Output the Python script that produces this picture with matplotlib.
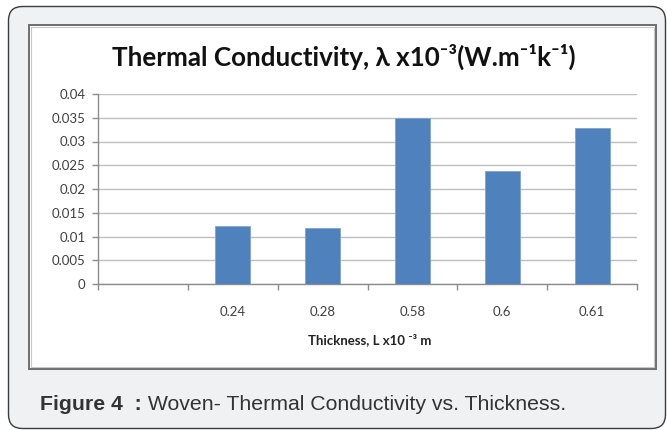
import numpy as np
import matplotlib
matplotlib.use("Agg")
import matplotlib.pyplot as plt
from matplotlib.patches import FancyBboxPatch, Rectangle
from matplotlib.ticker import FixedLocator, FuncFormatter

# ---- data ----
categories = ["", "0.24", "0.28", "0.58", "0.6", "0.61"]
conductivity = [np.nan, 0.0122, 0.0118, 0.035, 0.0238, 0.0328]
y_ticks = [0, 0.005, 0.01, 0.015, 0.02, 0.025, 0.03, 0.035, 0.04]

title_text = "Thermal Conductivity, λ x10⁻³(W.m⁻¹k⁻¹)"
xlabel_text = "Thickness, L x10 ⁻³ m"
caption_bold = "Figure 4  :"
caption_rest = " Woven- Thermal Conductivity vs. Thickness."

FAM = ["Lato", "DejaVu Sans"]

W, H = 667, 430
fig = plt.figure(figsize=(W / 100, H / 100), dpi=100)
fig.patch.set_facecolor("white")

# background axes in pixel coordinates
bg = fig.add_axes([0, 0, 1, 1])
bg.set_xlim(0, W)
bg.set_ylim(H, 0)
bg.axis("off")

outer = FancyBboxPatch((8.5, 6.5), 657, 422, boxstyle="round,pad=0,rounding_size=14",
                       facecolor="#f0f1f3", edgecolor="#3c3c3c", linewidth=1.0)
bg.add_patch(outer)
inner = Rectangle((28.5, 24.5), 627, 344.5, facecolor="white", edgecolor="#6e6e6e", linewidth=1.4)
bg.add_patch(inner)
inner2 = Rectangle((30.5, 26.5), 623, 340.5, facecolor="none", edgecolor="#c8c8c8", linewidth=0.8)
bg.add_patch(inner2)

bg.text(344, 57, title_text, ha="center", va="center", family=FAM,
        fontweight="bold", fontsize=18.7, color="#111111")

# caption
renderer = fig.canvas.get_renderer()
t1 = bg.text(40, 405, caption_bold, ha="left", va="center", family="Liberation Sans",
             fontweight="bold", fontsize=15.3, color="#333333")
bb = t1.get_window_extent(renderer=renderer)
bg.text(bb.x1, H - 405, caption_rest, ha="left", va="center", family="Liberation Sans",
        fontsize=15.3, color="#333333", transform=None)

# chart axes
left, right, top, bottom = 98, 637, 94, 284
ax = fig.add_axes([left / W, 1 - bottom / H, (right - left) / W, (bottom - top) / H])
ax.set_facecolor("none")
x = np.arange(len(categories))
ax.bar(x, conductivity, width=0.39, color="#4f81bd", edgecolor="#7fa3d3",
       linewidth=0.6, zorder=3)
ax.set_xlim(-0.5, len(categories) - 0.5)
ax.set_ylim(0, 0.04)

ax.yaxis.set_major_locator(FixedLocator(y_ticks))
ax.yaxis.set_major_formatter(FuncFormatter(lambda v, p: f"{v:g}"))
ax.grid(axis="y", color="#bebebe", linewidth=1.0, zorder=0)
ax.set_axisbelow(True)

ax.set_xticks(x)
ax.set_xticklabels(categories)
ax.set_xticks(np.arange(len(categories) + 1) - 0.5, minor=True)
ax.tick_params(axis="x", which="major", length=0, pad=16, labelsize=9.5, labelcolor="#404040")
ax.tick_params(axis="x", which="minor", length=4, color="#8c8c8c", width=1.0, direction="out")
ax.tick_params(axis="y", which="major", length=4, color="#8c8c8c", width=1.0, pad=5,
               labelsize=9.5, labelcolor="#404040")
for lab in ax.get_xticklabels() + ax.get_yticklabels():
    lab.set_family("Lato")

for s in ["top", "right"]:
    ax.spines[s].set_visible(False)
for s in ["left", "bottom"]:
    ax.spines[s].set_color("#8c8c8c")
    ax.spines[s].set_linewidth(1.0)

bg.text((left + right) / 2 + 2, 340, xlabel_text, ha="center", va="center", family=FAM,
        fontweight="bold", fontsize=9.5, color="#222222")

fig.savefig("out.png", dpi=100)
